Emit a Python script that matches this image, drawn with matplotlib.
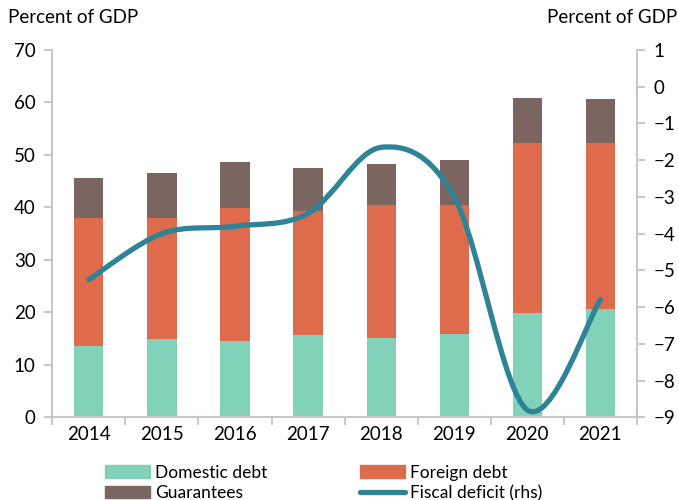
import numpy as np
import matplotlib
matplotlib.use("Agg")
import matplotlib.pyplot as plt
from matplotlib.path import Path
from matplotlib.patches import PathPatch
from matplotlib.lines import Line2D
from matplotlib.patches import Patch

plt.rcParams['font.family'] = ['Lato', 'DejaVu Sans']

years = ["2014", "2015", "2016", "2017", "2018", "2019", "2020", "2021"]
domestic = [13.5, 14.9, 14.5, 15.6, 15.2, 15.9, 19.9, 20.6]
foreign_top = [38.0, 37.9, 39.8, 39.4, 40.4, 40.4, 52.2, 52.2]
total_top = [45.6, 46.5, 48.7, 47.5, 48.2, 49.1, 60.9, 60.7]
foreign = [f - d for f, d in zip(foreign_top, domestic)]
guarantees = [t - f for t, f in zip(total_top, foreign_top)]
fiscal = [-5.25, -4.0, -3.8, -3.45, -1.65, -3.0, -8.8, -5.8]

c_dom = "#82D2BA"
c_for = "#DE6C4C"
c_gua = "#7A6561"
c_line = "#2E8496"
c_axis = "#C8C8C8"
fs = 13.5

fig = plt.figure(figsize=(6.79, 5.0), dpi=100)
ax = fig.add_axes([0.077, 0.1654, 0.861, 0.7346])
x = np.arange(len(years))
w = 0.4
ax.bar(x, domestic, w, color=c_dom, label="Domestic debt", zorder=2)
ax.bar(x, foreign, w, bottom=domestic, color=c_for, label="Foreign debt", zorder=2)
ax.bar(x, guarantees, w, bottom=foreign_top, color=c_gua, label="Guarantees", zorder=2)
ax.set_xlim(-0.5, len(years) - 0.5)
ax.set_ylim(0, 70)
ax.set_yticks(range(0, 71, 10))
ax.set_xticks(x)
ax.set_xticklabels(years)
ax.set_xticks(np.arange(-0.5, len(years), 1.0), minor=True)
ax.tick_params(axis='x', which='major', length=0, labelsize=fs, pad=6)
ax.tick_params(axis='x', which='minor', length=6, width=1.5, color=c_axis)
ax.tick_params(axis='y', length=6, width=1.5, color=c_axis, labelsize=fs, pad=6)
for s in ['top', 'right']:
    ax.spines[s].set_visible(False)
for s in ['left', 'bottom']:
    ax.spines[s].set_color(c_axis)
    ax.spines[s].set_linewidth(1.5)

ax2 = ax.twinx()
ax2.set_ylim(-9, 1)
ax2.set_yticks(range(-9, 2))
ax2.tick_params(axis='y', length=6, width=1.5, color=c_axis, labelsize=fs, pad=6)
for s in ['top', 'left', 'bottom']:
    ax2.spines[s].set_visible(False)
ax2.spines['right'].set_color(c_axis)
ax2.spines['right'].set_linewidth(1.5)

# smoothed line (Catmull-Rom style Bezier through the data points)
pts = np.column_stack([x.astype(float), np.array(fiscal)])
verts = [tuple(pts[0])]
codes = [Path.MOVETO]
n = len(pts)
for i in range(n - 1):
    p0 = pts[i - 1] if i > 0 else pts[i]
    p1 = pts[i]
    p2 = pts[i + 1]
    p3 = pts[i + 2] if i + 2 < n else pts[i + 1]
    c1 = p1 + (p2 - p0) / 6.0
    c2 = p2 - (p3 - p1) / 6.0
    verts += [tuple(c1), tuple(c2), tuple(p2)]
    codes += [Path.CURVE4] * 3
patch = PathPatch(Path(verts, codes), facecolor='none', edgecolor=c_line,
                  lw=3.8, capstyle='round', joinstyle='round', zorder=3)
ax2.add_patch(patch)

fig.text(0.012, 0.965, "Percent of GDP", fontsize=fs, ha='left', va='center')
fig.text(0.998, 0.965, "Percent of GDP", fontsize=fs, ha='right', va='center')

handles = [Patch(color=c_dom), Patch(color=c_gua), Patch(color=c_for),
           Line2D([0], [0], color=c_line, lw=3.8, solid_capstyle='round')]
labels = ["Domestic debt", "Guarantees", "Foreign debt", "Fiscal deficit (rhs)"]
lfs = 12.5
fig.legend(handles, labels, ncol=2, loc='upper left', bbox_to_anchor=(0.142, 0.088),
           frameon=False, fontsize=lfs, handlelength=2.6, handleheight=0.75,
           handletextpad=0.3, columnspacing=5.3, labelspacing=0.25, borderpad=0)

fig.savefig("out.png", dpi=100)
